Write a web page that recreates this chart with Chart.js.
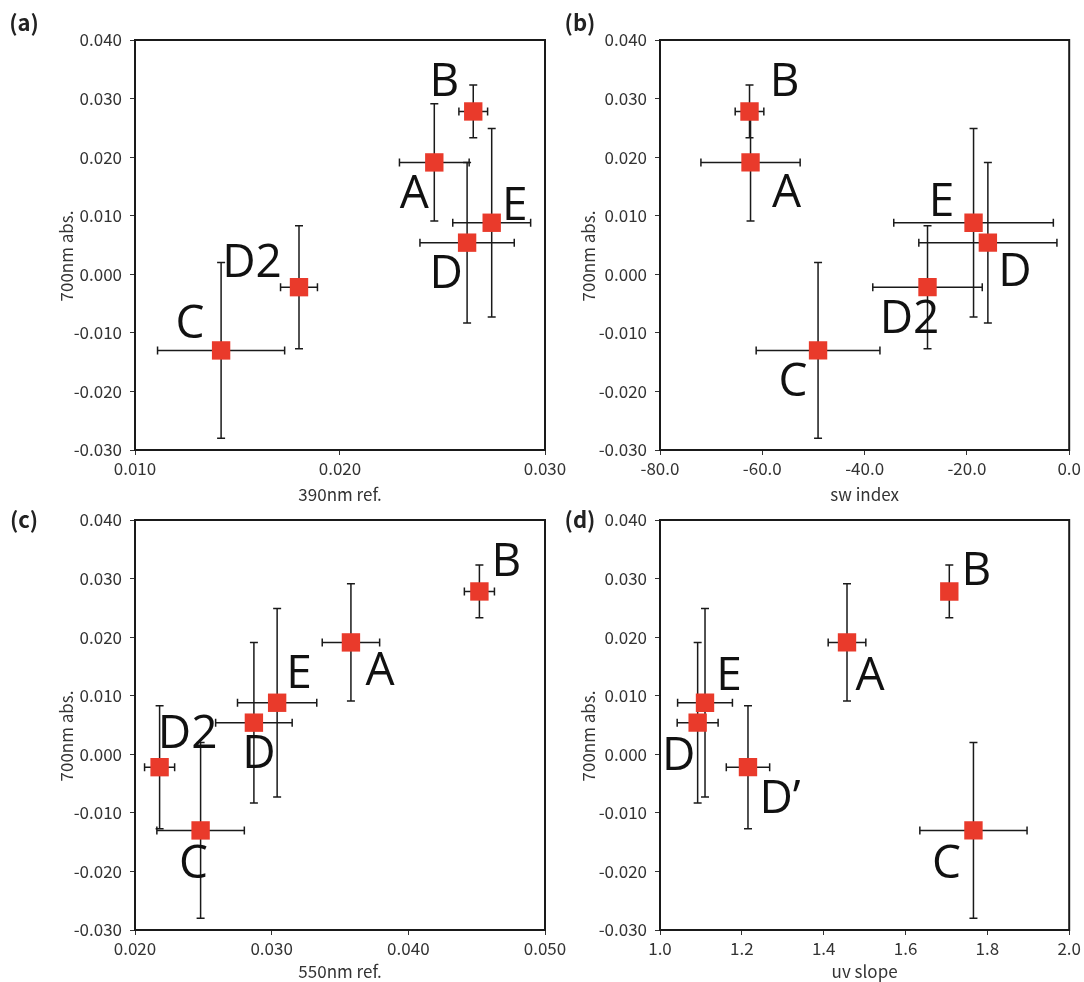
<!DOCTYPE html>
<html>
<head>
<meta charset="utf-8">
<script src="https://cdn.jsdelivr.net/npm/chart.js@4.4.1/dist/chart.umd.min.js"></script>
<style>
body { margin: 0; background: #fff; }
#wrap { position: relative; width: 1084px; height: 982px; overflow: hidden; }
canvas { position: absolute; }
</style>
</head>
<body>
<div id="wrap">
  <canvas id="pa" width="575" height="510" style="left:0;top:0"></canvas>
  <canvas id="pb" width="544" height="510" style="left:540px;top:0"></canvas>
  <canvas id="pc" width="575" height="502" style="left:0;top:480px"></canvas>
  <canvas id="pd" width="544" height="502" style="left:540px;top:480px"></canvas>
</div>
<script>
// samples, same order everywhere
var names = ['A', 'B', 'C', 'D', 'D2', 'E'];
var namesD = ['A', 'B', 'C', 'D', 'D’', 'E'];

// y: 700nm abs. (shared by all 4 panels)
var abs700 = [0.0191, 0.0278, -0.0130, 0.0054, -0.0022, 0.0088];
var abs700Err = [0.0100, 0.0045, 0.0150, 0.0137, 0.0105, 0.0161];

// x values per panel
var ref390 = [0.0246, 0.0265, 0.0142, 0.0262, 0.0180, 0.0274];
var ref390Err = [0.0017, 0.0007, 0.0031, 0.0023, 0.0009, 0.0019];
var swIndex = [-62.3, -62.5, -49.1, -15.9, -27.7, -18.7];
var swIndexErr = [9.7, 2.8, 12.1, 13.5, 10.7, 15.6];
var ref550 = [0.0358, 0.0452, 0.0248, 0.0287, 0.0218, 0.0304];
var ref550Err = [0.0021, 0.0011, 0.0032, 0.0028, 0.0011, 0.0029];
var uvSlope = [1.457, 1.707, 1.766, 1.092, 1.215, 1.110];
var uvSlopeErr = [0.046, 0, 0.131, 0.050, 0.053, 0.067];

// y axis ticks
var yMin = -0.03, yMax = 0.04, yStep = 0.01;
var yTitle = '700nm abs.';

var fam = '"Noto Sans CJK JP", "Noto Sans", sans-serif';
var tickFont = { family: fam, size: 17 };
var titleFont = { family: fam, size: 17 };

function buildPoints(xs, xe) {
    var pts = [];
    for (var i = 0; i < xs.length; i++) {
        pts.push({ x: xs[i], y: abs700[i], ex: xe[i], ey: abs700Err[i] });
    }
    return pts;
}

/* error bars + box frame under the markers, names on top */
var errorBars = {
    id: 'errorBars',
    beforeDatasetsDraw: function(chart) {
        var ctx = chart.ctx, sx = chart.scales.x, sy = chart.scales.y;
        var a = chart.chartArea;
        ctx.save();
        ctx.strokeStyle = '#1a1a1a';
        ctx.lineWidth = 2;
        ctx.strokeRect(a.left, a.top, a.right - a.left, a.bottom - a.top);
        ctx.lineWidth = 1.5;
        chart.data.datasets[0].data.forEach(function(p) {
            var cx = sx.getPixelForValue(p.x), cy = sy.getPixelForValue(p.y);
            ctx.beginPath();
            if (p.ex) {
                var l = sx.getPixelForValue(p.x - p.ex), r = sx.getPixelForValue(p.x + p.ex);
                ctx.moveTo(l, cy); ctx.lineTo(r, cy);
                ctx.moveTo(l, cy - 4); ctx.lineTo(l, cy + 4);
                ctx.moveTo(r, cy - 4); ctx.lineTo(r, cy + 4);
            }
            if (p.ey) {
                var t = sy.getPixelForValue(p.y + p.ey), b = sy.getPixelForValue(p.y - p.ey);
                ctx.moveTo(cx, t); ctx.lineTo(cx, b);
                ctx.moveTo(cx - 4, t); ctx.lineTo(cx + 4, t);
                ctx.moveTo(cx - 4, b); ctx.lineTo(cx + 4, b);
            }
            ctx.stroke();
        });
        ctx.restore();
    },
    afterDatasetsDraw: function(chart) {
        var o = chart.options.plugins.pointNames;
        var ctx = chart.ctx, meta = chart.getDatasetMeta(0);
        ctx.save();
        ctx.fillStyle = '#111';
        ctx.font = '46px "Open Sans", "Noto Sans", sans-serif';
        ctx.textAlign = 'center';
        ctx.textBaseline = 'alphabetic';
        meta.data.forEach(function(el, i) {
            var off = o.offsets[i];
            ctx.fillText(o.names[i], el.x + off[0], el.y + off[1] + 16.5);
        });
        // panel letter
        ctx.font = '600 22px ' + fam;
        ctx.textBaseline = 'middle';
        ctx.fillStyle = '#222';
        ctx.fillText(o.panel, o.panelPos[0], o.panelPos[1]);
        // y title, rotated
        ctx.font = '17px ' + fam;
        ctx.fillStyle = '#333';
        ctx.translate(o.yTitlePos[0], o.yTitlePos[1]);
        ctx.rotate(-Math.PI / 2);
        ctx.fillText(yTitle, 0, 0);
        ctx.restore();
    }
};

function makePanel(id, cfg) {
    var canvas = document.getElementById(id);
    var H = canvas.height, W = canvas.width;
    return new Chart(canvas.getContext('2d'), {
        type: 'scatter',
        data: {
            datasets: [{
                data: buildPoints(cfg.xs, cfg.xe),
                backgroundColor: '#E93A2B',
                borderWidth: 0,
                pointStyle: 'rect',
                pointRadius: 13,
                pointHoverRadius: 13
            }]
        },
        options: {
            responsive: false,
            animation: false,
            events: [],
            layout: { padding: { left: 0, top: 40, right: W - cfg.area[1], bottom: 0 } },
            plugins: {
                legend: { display: false },
                tooltip: { enabled: false },
                pointNames: {
                    names: cfg.names, offsets: cfg.offsets, panel: cfg.panel,
                    panelPos: cfg.panelPos, yTitlePos: cfg.yTitlePos
                }
            },
            scales: {
                x: {
                    type: 'linear',
                    min: cfg.xMin, max: cfg.xMax,
                    border: { display: false },
                    grid: { drawOnChartArea: false, tickLength: 5, color: '#333', lineWidth: 1 },
                    ticks: {
                        stepSize: cfg.xStep, padding: 3, color: '#333', font: tickFont,
                        maxRotation: 0, autoSkip: false,
                        callback: function(v) { return Number(v).toFixed(cfg.xDec); }
                    },
                    title: { display: true, text: cfg.xTitle, color: '#333', font: titleFont, padding: { top: 0, bottom: cfg.xTitlePad } },
                    afterFit: function(s) { s.height = H - cfg.area[3]; }
                },
                y: {
                    type: 'linear',
                    min: yMin, max: yMax,
                    border: { display: false },
                    grid: { drawOnChartArea: false, tickLength: 5, color: '#333', lineWidth: 1 },
                    ticks: {
                        stepSize: yStep, padding: 8, color: '#333', font: tickFont, autoSkip: false,
                        callback: function(v) { return Number(v).toFixed(3); }
                    },
                    afterFit: function(s) { s.width = cfg.area[0]; }
                }
            }
        },
        plugins: [errorBars]
    });
}

makePanel('pa', {
    xs: ref390, xe: ref390Err, xMin: 0.01, xMax: 0.03, xStep: 0.01, xDec: 3,
    xTitle: '390nm ref.', names: names, panel: '(a)', panelPos: [24, 23],
    area: [135, 545, 40, 450], xTitlePad: 5, yTitlePos: [67, 256],
    offsets: [[-20, 29], [-29, -32], [-31, -29], [-21, 29], [-47, -27], [23, -19]]
});
makePanel('pb', {
    xs: swIndex, xe: swIndexErr, xMin: -80, xMax: 0, xStep: 20, xDec: 1,
    xTitle: 'sw index', names: names, panel: '(b)', panelPos: [40, 23],
    area: [120, 530, 40, 450], xTitlePad: 5, yTitlePos: [49, 256],
    offsets: [[36, 28], [35, -32], [-25, 29], [27, 27], [-18, 29], [-32, -23]]
});
makePanel('pc', {
    xs: ref550, xe: ref550Err, xMin: 0.02, xMax: 0.05, xStep: 0.01, xDec: 3,
    xTitle: '550nm ref.', names: names, panel: '(c)', panelPos: [24, 40],
    area: [135, 545, 40, 450], xTitlePad: 0, yTitlePos: [67, 256],
    offsets: [[29, 26], [27, -32], [-7, 31], [5, 29], [28, -36], [22, -31]]
});
makePanel('pd', {
    xs: uvSlope, xe: uvSlopeErr, xMin: 1.0, xMax: 2.0, xStep: 0.2, xDec: 1,
    xTitle: 'uv slope', names: namesD, panel: '(d)', panelPos: [40, 40],
    area: [120, 530, 40, 450], xTitlePad: 0, yTitlePos: [49, 256],
    offsets: [[23, 31], [27, -23], [-27, 31], [-19, 31], [32, 29], [24, -29]]
});
</script>
</body>
</html>
